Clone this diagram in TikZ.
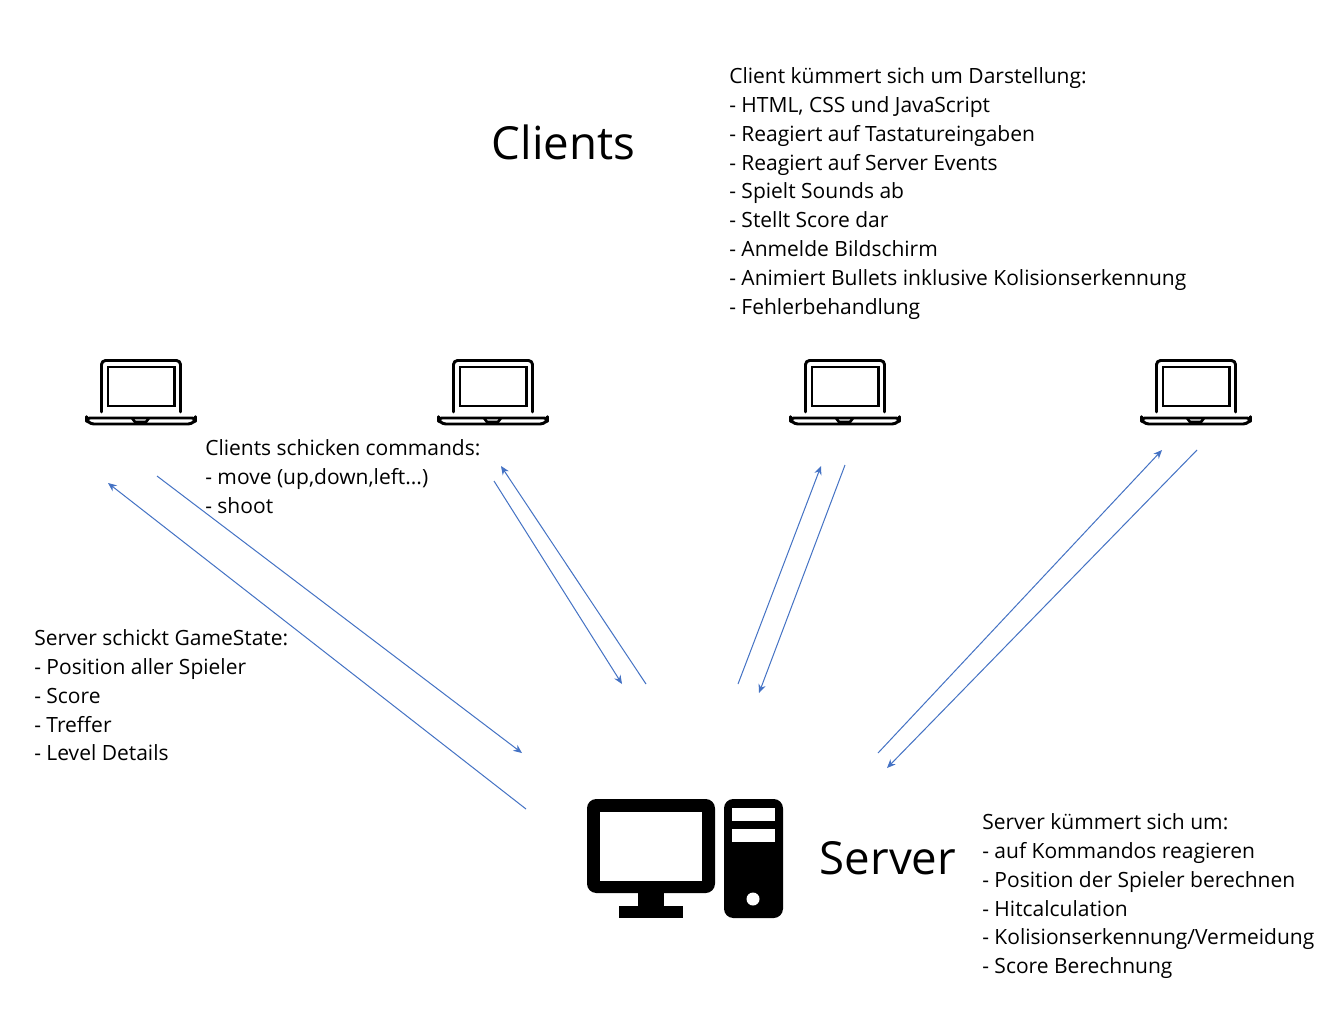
\documentclass[tikz,border=0pt]{standalone}
\usepackage{fontspec}
\setmainfont{Open Sans}
\usetikzlibrary{arrows.meta}
\definecolor{arrowblue}{HTML}{4472C4}
\tikzset{
  txt/.style={anchor=north west,align=left,inner sep=0pt,font=\fontsize{15.75}{21.6}\selectfont,text=black},
  big/.style={anchor=base west,inner sep=0pt,font=\fontsize{34.2}{40}\selectfont,text=black},
  link/.style={draw=arrowblue,line width=0.75pt,-{Stealth[length=6.5pt,width=5.5pt]}},
  laptop/.pic={
    \draw[line width=2.2pt,line cap=round,line join=round,rounded corners=3pt] (-39.5,53) -- (-39.5,1.5) -- (39.5,1.5) -- (39.5,53);
    \draw[line width=2.2pt] (-33,8) rectangle (33.5,47);
    \draw[line width=2.2pt,line join=round,rounded corners=2.5pt] (-54.5,59) -- (54.5,59) -- (54.5,61) -- (50.5,65) -- (-50.5,65) -- (-54.5,61) -- cycle;
    \draw[line width=2pt,line join=round] (-9,59) -- (-6,63) -- (5,63) -- (8,59);
  }
}
\begin{document}
\begin{tikzpicture}[x=0.75pt,y=-0.75pt]
\useasboundingbox (0,0) rectangle (1344,1008);
\fill[white] (0,0) rectangle (1344,1008);

\pic at (141,359) {laptop};
\pic at (493,359) {laptop};
\pic at (845,359) {laptop};
\pic at (1196,359) {laptop};

% server icon
\fill[black,rounded corners=7pt] (587,799) rectangle (715,893);
\fill[white] (600,812) rectangle (702,881);
\fill[black] (638,890) rectangle (664,908);
\fill[black] (619,906) rectangle (683,918);
\fill[black,rounded corners=7pt] (724,799) rectangle (783,918);
\fill[white] (732,808) rectangle (775,821);
\fill[white] (732,829) rectangle (775,842);
\fill[white] (753,899) circle (6.5);

\node[big] (clients) at (491.5,159) {Clients};
\node[big] (server) at (819.5,874.5) {Server};

\node[txt] (clientinfo) at (729,67.5) {Client kümmert sich um Darstellung:\\- HTML, CSS und JavaScript\\- Reagiert auf Tastatureingaben\\- Reagiert auf Server Events\\- Spielt Sounds ab\\- Stellt Score dar\\- Anmelde Bildschirm\\- Animiert Bullets inklusive Kolisionserkennung\\- Fehlerbehandlung};
\node[txt] (commands) at (205,439.5) {Clients schicken commands:\\- move (up,down,left...)\\- shoot};
\node[txt] (gamestate) at (34,629.5) {Server schickt GameState:\\- Position aller Spieler\\- Score\\- Treffer\\- Level Details};
\node[txt] (serverinfo) at (982,813.5) {Server kümmert sich um:\\- auf Kommandos reagieren\\- Position der Spieler berechnen\\- Hitcalculation\\- Kolisionserkennung/Vermeidung\\- Score Berechnung};

\coordinate (a1) at (526,809); \coordinate (b1) at (108,483);
\coordinate (a2) at (157,476); \coordinate (b2) at (522,753);
\coordinate (a3) at (646,684); \coordinate (b3) at (501,466);
\coordinate (a4) at (494,481); \coordinate (b4) at (622,684);
\coordinate (a5) at (738,684); \coordinate (b5) at (821,466);
\coordinate (a6) at (845,465); \coordinate (b6) at (759,693);
\coordinate (a7) at (878,753); \coordinate (b7) at (1162,450);
\coordinate (a8) at (1197,450); \coordinate (b8) at (887,768);
\foreach \i in {1,...,8} \draw[link] (a\i) -- (b\i);
\end{tikzpicture}
\end{document}
